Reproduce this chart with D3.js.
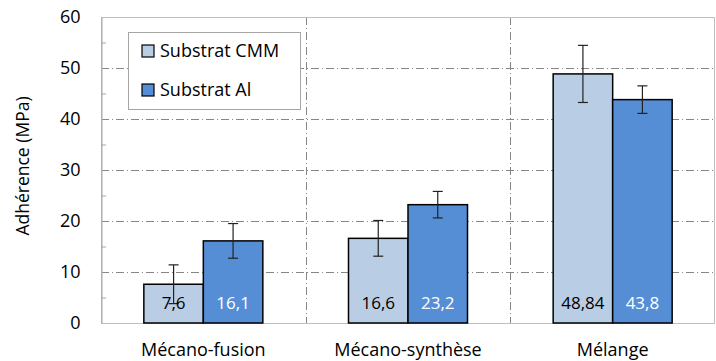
<!DOCTYPE html>
<html><head><meta charset="utf-8">
<script src="https://cdn.jsdelivr.net/npm/d3@7"></script>
<style>body{margin:0;background:#fff}svg{display:block}text{font-family:"Open Sans","Noto Sans",sans-serif}</style>
</head><body><svg id="c" width="716" height="361"></svg>
<script>
const categories = ["Mécano-fusion","Mécano-synthèse","Mélange"];
const seriesNames = ["Substrat CMM","Substrat Al"];
const cmmValues = [7.6,16.6,48.84];
const alValues = [16.1,23.2,43.8];
const cmmErrors = [3.8,3.5,5.6];
const alErrors = [3.4,2.6,2.7];
const cmmLabels = ["7,6","16,6","48,84"];
const alLabels = ["16,1","23,2","43,8"];
const yTicks = [0,10,20,30,40,50,60];
const colors = ["#b9cde5","#558ed5"];

const svg = d3.select("#c");
const m = {l:101,t:17,r:715,b:323};
const x = d3.scaleBand().domain(categories).range([m.l,m.r]).paddingInner(0).paddingOuter(0);
const xs = d3.scaleBand().domain([0,1]).range([0,x.bandwidth()]).paddingInner(0).paddingOuter(0.72);
const y = d3.scaleLinear().domain([0,60]).range([m.b,m.t]);

// grid
svg.append("g").selectAll("line").data(yTicks.filter(d=>d>0&&d<60)).join("line")
  .attr("x1",m.l).attr("x2",m.r).attr("y1",d=>y(d)+0.5).attr("y2",d=>y(d)+0.5)
  .attr("stroke","#868686").attr("stroke-dasharray","8,3,1,3");
svg.append("g").selectAll("line").data(categories.slice(1)).join("line")
  .attr("x1",d=>Math.round(x(d))+0.5).attr("x2",d=>Math.round(x(d))+0.5).attr("y1",m.t).attr("y2",m.b)
  .attr("stroke","#868686").attr("stroke-dasharray","8,3,1,3");
// frame
svg.append("rect").attr("x",m.l+0.5).attr("y",m.t+0.5).attr("width",m.r-m.l-1).attr("height",m.b-m.t)
  .attr("fill","none").attr("stroke","#bfbfbf");
// left axis
const ax = svg.append("g").attr("transform",`translate(${m.l+0.5},0)`)
  .call(d3.axisLeft(y).tickValues(yTicks).tickSize(0).tickPadding(21));
ax.select(".domain").attr("stroke","#a6a6a6");
ax.selectAll("text").attr("font-size",18).attr("fill","#000").attr("font-family","Open Sans");
svg.append("g").selectAll("line").data(d3.range(5,60,10)).join("line")
  .attr("x1",m.l).attr("x2",m.l+5).attr("y1",d=>y(d)+0.5).attr("y2",d=>y(d)+0.5).attr("stroke","#a6a6a6");

// bars
const groups = [cmmValues, alValues];
const errs = [cmmErrors, alErrors];
const labs = [cmmLabels, alLabels];
groups.forEach((vals,si)=>{
  const g = svg.append("g");
  g.selectAll("rect").data(categories).join("rect")
    .attr("x",(d)=>x(d)+xs(si)).attr("width",xs.bandwidth())
    .attr("y",(d,i)=>y(vals[i])).attr("height",(d,i)=>y(0)-y(vals[i]))
    .attr("fill",colors[si]).attr("stroke","#000").attr("stroke-width",1.5);
});
groups.forEach((vals,si)=>{
  const g = svg.append("g");
  categories.forEach((c,i)=>{
    const cx = x(c)+xs(si)+xs.bandwidth()/2;
    const lo = y(vals[i]-errs[si][i]), hi = y(vals[i]+errs[si][i]);
    g.append("line").attr("x1",cx).attr("x2",cx).attr("y1",lo).attr("y2",hi).attr("stroke","#222").attr("stroke-width",1.2);
    [lo,hi].forEach(yy=>g.append("line").attr("x1",cx-5).attr("x2",cx+5).attr("y1",yy).attr("y2",yy).attr("stroke","#222").attr("stroke-width",1.2));
    g.append("text").attr("x",cx).attr("y",y(0)-14).attr("text-anchor","middle").attr("font-size",17)
      .attr("fill",si===0?"#000":"#fff").text(labs[si][i]);
  });
});

// x labels
svg.append("g").selectAll("text").data(categories).join("text")
  .attr("x",d=>x(d)+x.bandwidth()/2).attr("y",356).attr("text-anchor","middle").attr("font-size",18).text(d=>d);

// y title
svg.append("text").attr("transform","translate(29,166) rotate(-90)").attr("text-anchor","middle")
  .attr("font-size",17.5).text("Adhérence (MPa)");

// legend
const lg = svg.append("g");
lg.append("rect").attr("x",128.5).attr("y",32.5).attr("width",172).attr("height",77).attr("fill","#fff").attr("stroke","#a6a6a6");
seriesNames.forEach((n,i)=>{
  const yy = 45+i*39;
  lg.append("rect").attr("x",142).attr("y",yy).attr("width",12).attr("height",12).attr("fill",colors[i]).attr("stroke","#000").attr("stroke-width",1.2);
  lg.append("text").attr("x",160).attr("y",yy+12).attr("font-size",18).text(n);
});
</script></body></html>
